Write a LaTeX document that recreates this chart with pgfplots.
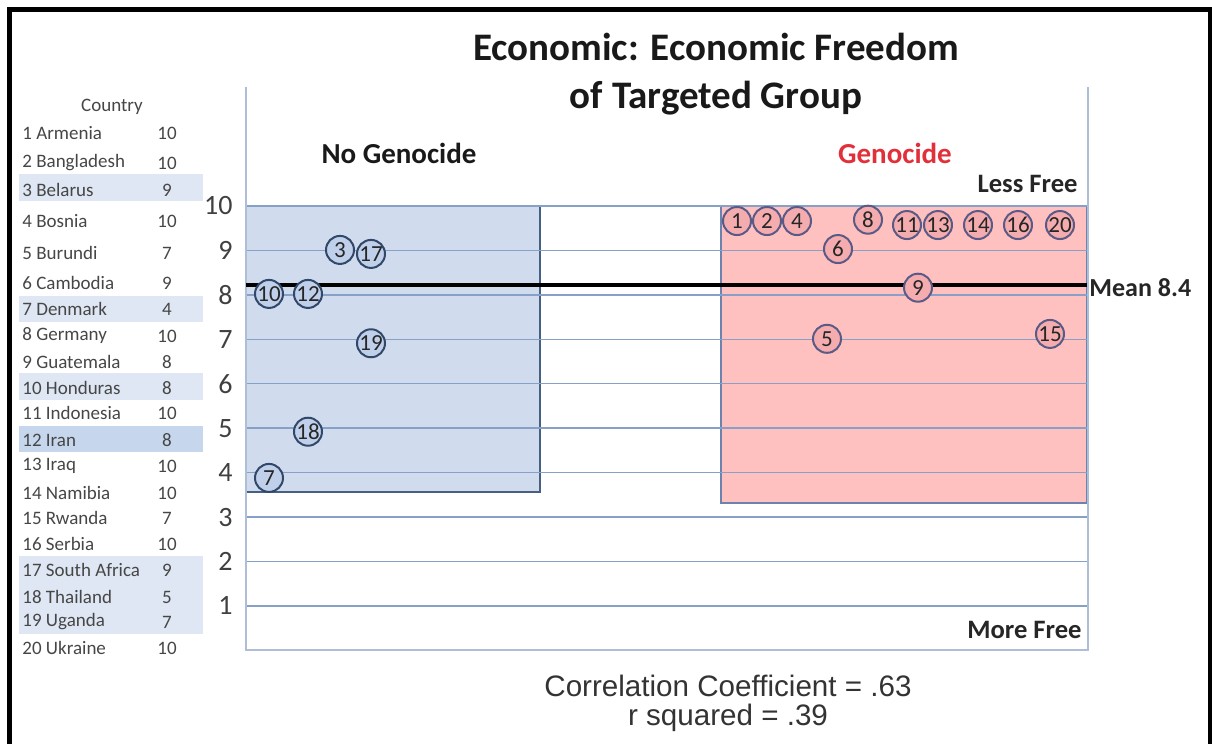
\documentclass[border=0pt]{standalone}
\usepackage{pgfplots}
\pgfplotsset{compat=1.18}
\usepackage{fontspec}
\setmainfont{Carlito}
\newfontfamily\arialfont{Liberation Sans}
\definecolor{boxblue}{RGB}{208,220,238}
\definecolor{boxblueedge}{RGB}{70,95,130}
\definecolor{boxpink}{RGB}{255,192,192}
\definecolor{boxpinkedge}{RGB}{110,130,175}
\definecolor{gridc}{RGB}{135,160,200}
\definecolor{framec}{RGB}{175,190,215}
\definecolor{circblue}{RGB}{192,208,234}
\definecolor{circblueedge}{RGB}{50,72,105}
\definecolor{circpink}{RGB}{245,172,174}
\definecolor{circpinkedge}{RGB}{90,90,135}
\definecolor{gentxt}{RGB}{226,48,58}
\definecolor{listtxt}{RGB}{70,70,70}
\definecolor{ticktxt}{RGB}{64,64,64}
\definecolor{band}{RGB}{222,231,243}
\definecolor{bandd}{RGB}{198,214,236}
\begin{document}
\begin{tikzpicture}
\useasboundingbox (0,0) rectangle (606pt,-372pt);
\begin{scope}[x=0.5pt,y=-0.5pt]
  % outer frame
  \draw[line width=2.15pt] (9.5,800) -- (9.5,9.5) -- (1210,9.5) -- (1210,800);
  % highlight bands of the country table
  \fill[band] (19,174) rectangle (203,201);
  \fill[band] (19,296) rectangle (203,322);
  \fill[band] (19,373) rectangle (203,400);
  \fill[bandd] (19,426) rectangle (203,452);
  \fill[band] (19,556) rectangle (203,634);
  % country table
  \node[text=listtxt, font=\fontsize{9.5}{10}\selectfont] at (112,107) {Country};
  \foreach \yy/\nm/\vv in {133/1 Armenia/10, 163/2 Bangladesh/10, 190/3 Belarus/9,
      221/4 Bosnia/10, 253/5 Burundi/7, 283/6 Cambodia/9, 309/7 Denmark/4,
      336/8 Germany/10, 362/9 Guatemala/8, 388/10 Honduras/8, 413/11 Indonesia/10,
      440/12 Iran/8, 466/13 Iraq/10, 493/14 Namibia/10, 518/15 Rwanda/7,
      544/16 Serbia/10, 570/17 South Africa/9, 597/18 Thailand/5, 622/19 Uganda/7,
      648/20 Ukraine/10}{
    \node[anchor=west, inner sep=0pt, text=listtxt, font=\fontsize{9.5}{10}\selectfont] at (22,\yy) {\nm};
    \node[inner sep=0pt, text=listtxt, font=\fontsize{9.5}{10}\selectfont] at (167,\yy) {\vv};
  }
  % titles
  \node[font=\bfseries\fontsize{19.5}{20}\selectfont, text=black!90] at (716,47) {Economic: Economic Freedom};
  \node[font=\bfseries\fontsize{19.5}{20}\selectfont, text=black!90] at (716,98) {of Targeted Group};
  \node[font=\bfseries\fontsize{14.5}{15}\selectfont, text=black!90] at (399,153) {No Genocide};
  \node[font=\bfseries\fontsize{14.5}{15}\selectfont, text=gentxt] at (895,153) {Genocide};
  \node[anchor=east, inner sep=0pt, font=\bfseries\fontsize{13.3}{14}\selectfont, text=black!85] at (1078,184) {Less Free};
  \node[anchor=east, inner sep=0pt, font=\bfseries\fontsize{13.3}{14}\selectfont, text=black!85] at (1082,630) {More Free};
  \node[anchor=west, inner sep=0pt, font=\bfseries\fontsize{13}{14}\selectfont, text=black!85] at (1089,288) {Mean 8.4};
  \node[text=black!80, font=\arialfont\fontsize{14.8}{15}\selectfont] at (728,686) {Correlation Coefficient = .63};
  \node[text=black!80, font=\arialfont\fontsize{14.8}{15}\selectfont] at (728,718) {r squared = .39};
\end{scope}
\begin{axis}[
  at={(123pt,-325.2pt)}, anchor=south west,
  width=421pt, height=281.8pt, scale only axis,
  xmin=246, xmax=1088, ymin=0, ymax=12.68,
  axis line style={draw=none},
  xtick=\empty, ytick={1,2,...,10},
  major tick length=0pt,
  /pgf/number format/assume math mode=true,
  yticklabel style={inner sep=0pt, xshift=-6.5pt, text=ticktxt, font=\fontsize{14}{14}\selectfont},
  clip=false,
]
% boxes
\addplot[fill=boxblue, draw=boxblueedge, line width=1.1pt] coordinates {(246,3.56) (540,3.56) (540,10) (246,10)} -- cycle;
\addplot[fill=boxpink, draw=boxpinkedge, line width=0.9pt] coordinates {(721,3.32) (1087,3.32) (1087,10) (721,10)} -- cycle;
% grid lines
\pgfplotsinvokeforeach{1,2,...,10}{
  \draw[gridc, line width=0.7pt] (axis cs:246,#1) -- (axis cs:1088,#1);
}
% plot frame (left, bottom, right)
\draw[framec, line width=1pt] (axis cs:246,12.68) -- (axis cs:246,0) -- (axis cs:1088,0) -- (axis cs:1088,12.68);
% mean line
\addplot[black, line width=1.6pt] coordinates {(246,8.22) (1087,8.22)};
% No genocide
\addplot[only marks, mark=*, mark size=7pt,
  mark options={fill=circblue, draw=circblueedge, line width=1pt},
  point meta=explicit symbolic, nodes near coords,
  every node near coord/.style={anchor=center, inner sep=0pt, text=black!85, font=\fontsize{11.5}{11.5}\selectfont}]
  table[x=x, y=y, meta=lab] {
x y lab
340 9.01 3
371 8.92 17
269 8.02 10
308 8.02 12
371 6.91 19
308 4.92 18
269 3.88 7
};
% Genocide
\addplot[only marks, mark=*, mark size=7pt,
  mark options={fill=circpink, draw=circpinkedge, line width=1pt},
  point meta=explicit symbolic, nodes near coords,
  every node near coord/.style={anchor=center, inner sep=0pt, text=black!85, font=\fontsize{11.5}{11.5}\selectfont}]
  table[x=x, y=y, meta=lab] {
x y lab
737 9.66 1
767 9.66 2
797 9.66 4
868 9.69 8
907 9.57 11
938 9.57 13
978 9.57 14
1018 9.57 16
1060 9.57 20
838 9.03 6
918 8.16 9
827 7.01 5
1050 7.12 15
};
\end{axis}
\end{tikzpicture}
\end{document}
